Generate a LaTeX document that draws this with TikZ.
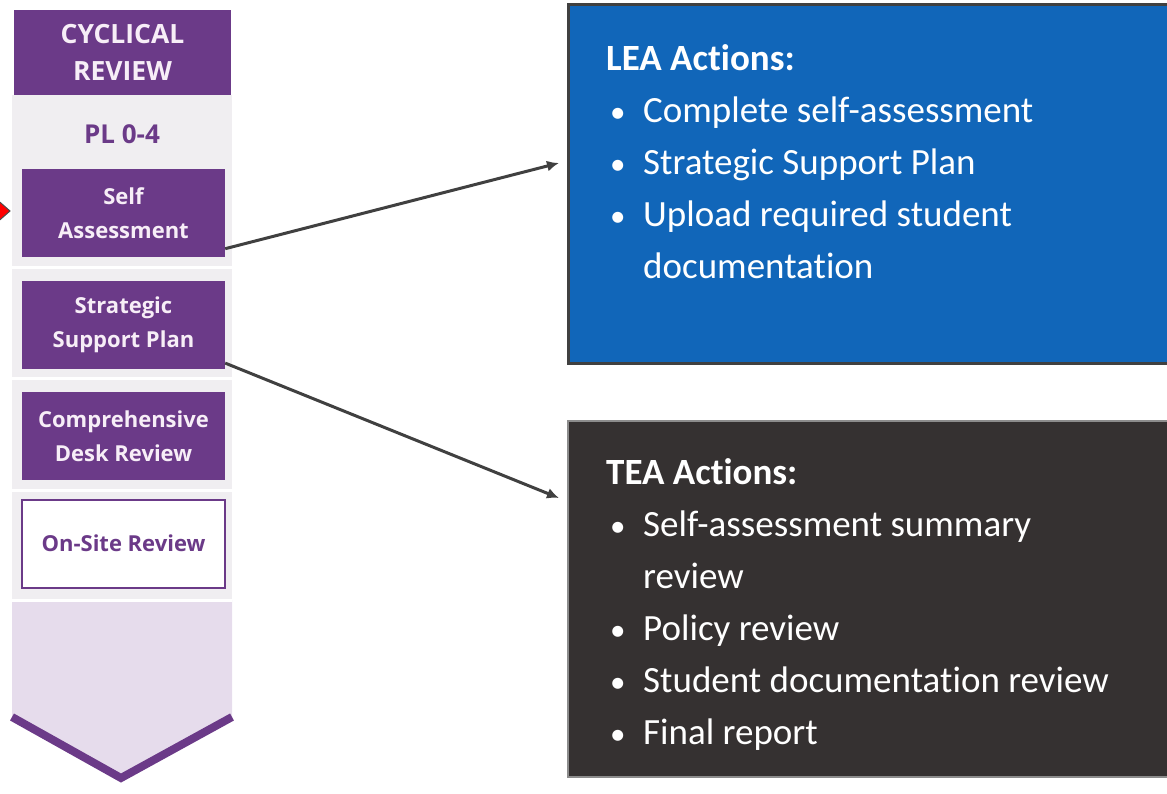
\documentclass[tikz,border=0pt]{standalone}
\usepackage{fontspec}
\setmainfont[Ligatures=NoCommon]{Carlito}
\newfontfamily\colfont{Open Sans}
\usepackage{xcolor}
\usetikzlibrary{arrows.meta,positioning}

\definecolor{cycpurple}{HTML}{6B3A88}
\definecolor{cycgrey}{HTML}{F0EEF1}
\definecolor{cyclav}{HTML}{E6DCEC}
\definecolor{cyctext}{HTML}{F7EEF7}
\definecolor{leablue}{HTML}{1166B9}
\definecolor{teadark}{HTML}{353131}
\definecolor{arrgrey}{HTML}{404040}

\newcommand{\actbullet}{\hspace{4pt}{\fontsize{31}{31}\selectfont\textbullet}}

\begin{document}
\begin{tikzpicture}[
  x=1pt,y=-1pt,
  node distance=23pt,
  head/.style={fill=cycpurple,text=cyctext,align=center,minimum width=217pt,minimum height=85pt,inner sep=0pt,font=\colfont\bfseries\fontsize{26.5}{37}\selectfont},
  level/.style={text=cycpurple,inner sep=0pt,font=\colfont\bfseries\fontsize{26}{30}\selectfont},
  stage/.style={fill=cycpurple,text=cyctext,align=center,minimum width=203pt,minimum height=88pt,inner sep=0pt,font=\colfont\bfseries\fontsize{22}{34}\selectfont},
  open/.style={stage,fill=white,draw=cycpurple,line width=2pt,text=cycpurple},
  panel/.style={anchor=north west,minimum width=605pt,inner sep=0pt},
  actions/.style={anchor=north west,inner sep=0pt,text=white,font=\fontsize{37}{52}\selectfont},
  arr/.style={-{Latex[length=12pt,width=11pt]},arrgrey,line width=3pt}
]
\useasboundingbox (0,0) rectangle (1167,794);

% column background with chevron
\fill[cycgrey] (12,95) rectangle (232,600);
\fill[cyclav] (12,600) -- (12,717) -- (121,778) -- (232,717) -- (232,600) -- cycle;
\draw[cycpurple,line width=8pt] (12,717) -- (121,778) -- (232,717);
\foreach \y in {268,378,490,600}
  \draw[white,line width=3pt] (12,\y) -- (232,\y);

% marker at the left edge
\fill[red,draw=black!70,line width=1pt] (-6,197) -- (10,211) -- (-6,225) -- cycle;

% column
\node[head] (cyc) at (122.5,52.5) {CYCLICAL\\REVIEW};
\node[level] (pl) at (122,134) {PL 0-4};
\node[stage] (sa) at (123.5,213.5) {Self\\Assessment};
\node[stage,below=of sa] (ssp) {Strategic\\Support Plan};
\node[stage,below=of ssp] (cdr) {Comprehensive\\Desk Review};
\node[open,below=18pt of cdr] (osr) {On-Site Review};

% action panels
\node[panel,fill=leablue,draw=black!75,line width=3pt,minimum height=359pt] (lea) at (567,3) {};
\node[panel,fill=teadark,draw=black!45,line width=2pt,minimum height=356pt] (tea) at (567,420) {};

\node[actions] (leatxt) at (606,34) {%
  \begin{tabular}{@{}p{37pt}@{}l@{}}
  \multicolumn{2}{@{}l@{}}{\bfseries LEA Actions:}\\
  \actbullet & Complete self-assessment\\
  \actbullet & Strategic Support Plan\\
  \actbullet & Upload required student\\
             & documentation
  \end{tabular}};
\node[actions] (teatxt) at (606,448) {%
  \begin{tabular}{@{}p{37pt}@{}l@{}}
  \multicolumn{2}{@{}l@{}}{\bfseries TEA Actions:}\\
  \actbullet & Self-assessment summary\\
             & review\\
  \actbullet & Policy review\\
  \actbullet & Student documentation review\\
  \actbullet & Final report
  \end{tabular}};

% connectors
\draw[arr] ([yshift=9pt]sa.south east) -- ([xshift=-8pt,yshift=21pt]lea.west);
\draw[arr] ([yshift=6pt]ssp.south east) -- ([xshift=-8pt,yshift=101pt]tea.west);
\end{tikzpicture}
\end{document}
